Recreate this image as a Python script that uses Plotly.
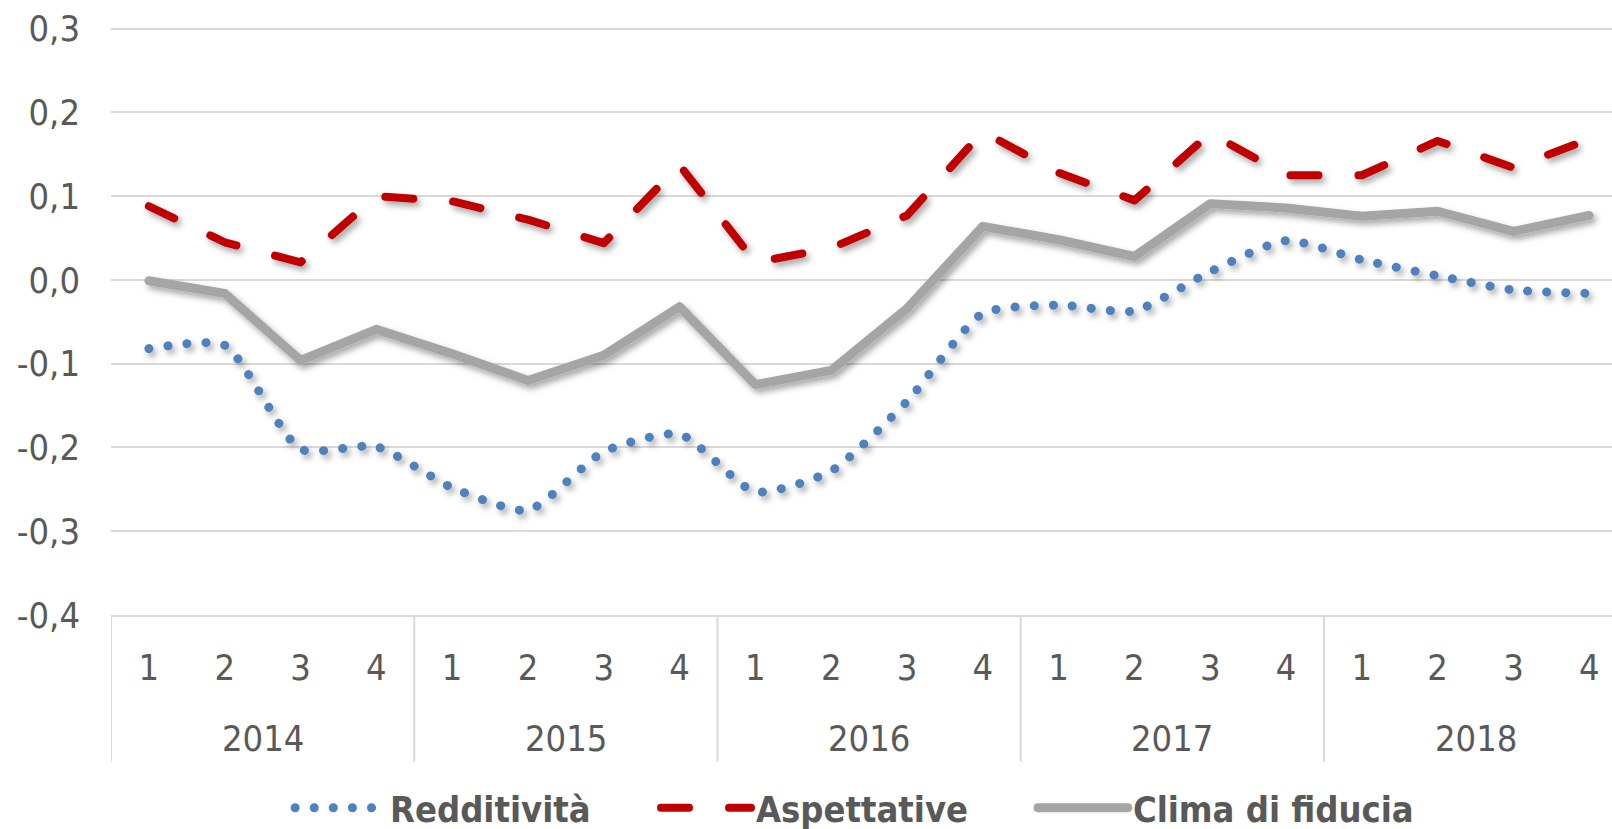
import plotly.graph_objects as go

# ---------------- data ----------------
years = ["2014", "2015", "2016", "2017", "2018"]
quarters = ["1", "2", "3", "4"]

redditivita = [-0.082, -0.078, -0.202, -0.199, -0.248, -0.275, -0.205, -0.184,
               -0.253, -0.228, -0.145, -0.040, -0.030, -0.037, 0.010, 0.047,
               0.024, 0.005, -0.012, -0.016]
aspettative = [0.088, 0.045, 0.021, 0.100, 0.094, 0.072, 0.044, 0.137,
               0.021, 0.038, 0.077, 0.177, 0.128, 0.095, 0.175, 0.125,
               0.125, 0.166, 0.134, 0.168]
clima = [-0.001, -0.016, -0.096, -0.059, -0.088, -0.120, -0.090, -0.032,
         -0.125, -0.108, -0.034, 0.064, 0.048, 0.028, 0.091, 0.086,
         0.076, 0.082, 0.058, 0.077]

y_ticks = [-0.4, -0.3, -0.2, -0.1, 0.0, 0.1, 0.2, 0.3]
y_tick_labels = ["-0,4", "-0,3", "-0,2", "-0,1", "0,0", "0,1", "0,2", "0,3"]

series_names = ["Redditività", "Aspettative", "Clima di fiducia"]

# ---------------- derived ----------------
x_idx = list(range(len(years) * len(quarters)))
x_labels = [q for _ in years for q in quarters]

FONT = "DejaVu Sans Condensed, DejaVu Sans, sans-serif"
TXT = "#595959"
GRID = "#d9d9d9"
TICK_SIZE = 36

fig = go.Figure()
fig.add_trace(go.Scatter(
    x=x_idx, y=redditivita, name=series_names[0], mode="lines", legend="legend",
    line=dict(color="#4f81bd", width=9, dash="0.1px,19px", shape="spline", smoothing=0.6),
))
fig.add_trace(go.Scatter(
    x=x_idx, y=aspettative, name=series_names[1], mode="lines", legend="legend2",
    line=dict(color="#c00000", width=8, dash="28px,40px"),
))
fig.add_trace(go.Scatter(
    x=x_idx, y=clima, name=series_names[2], mode="lines", legend="legend3",
    line=dict(color="#a5a5a5", width=9),
))

annotations = []
shapes = []
nq = len(quarters)
for k, yr in enumerate(years):
    center = k * nq + (nq - 1) / 2
    annotations.append(dict(
        x=center, xref="x", y=0, yref="paper", yshift=-123, yanchor="middle",
        text=yr, showarrow=False, font=dict(family=FONT, size=TICK_SIZE, color=TXT),
    ))
for k in range(len(years) + 1):
    xs = k * nq - 0.5
    shapes.append(dict(
        type="line", xref="x", yref="paper", x0=xs, x1=xs, y0=0, y1=-0.249,
        line=dict(color=GRID, width=2), layer="below",
    ))


def legend_box(xpos):
    return dict(
        orientation="h", x=xpos, xanchor="left", y=-0.328, yanchor="middle",
        font=dict(family=FONT, size=36, color=TXT, weight="bold"),
        itemwidth=90, bgcolor="rgba(0,0,0,0)",
        itemclick=False, itemdoubleclick=False,
    )


fig.update_layout(
    width=1612, height=829,
    margin=dict(l=111, r=0, t=27, b=214, autoexpand=False),
    paper_bgcolor="white", plot_bgcolor="white",
    font=dict(family=FONT, color=TXT),
    showlegend=True,
    legend=legend_box(0.1193),
    legend2=legend_box(0.3631),
    legend3=legend_box(0.6142),
    xaxis=dict(
        range=[-0.5, 19.3], tickvals=x_idx, ticktext=x_labels,
        showgrid=False, zeroline=False, showline=True, linecolor=GRID, linewidth=2,
        ticks="", tickfont=dict(family=FONT, size=TICK_SIZE, color=TXT),
        ticklabelstandoff=20, fixedrange=True, automargin=False,
    ),
    yaxis=dict(
        range=[-0.4, 0.302], tickvals=y_ticks, ticktext=y_tick_labels,
        showgrid=True, gridcolor=GRID, gridwidth=2, zeroline=False, showline=False,
        ticks="", tickfont=dict(family=FONT, size=TICK_SIZE, color=TXT),
        ticklabelstandoff=30, fixedrange=True, automargin=False,
    ),
    annotations=annotations,
    shapes=shapes,
)

post = """
document.body.style.margin = '0';
document.body.style.padding = '0';
var gd = document.getElementById('{plot_id}');
function fixLines(){
  var ns = 'http://www.w3.org/2000/svg';
  if(!document.getElementById('lshadow')){
    var defs = gd.querySelector('svg.main-svg defs') || gd.querySelector('defs');
    var f = document.createElementNS(ns, 'filter');
    f.setAttribute('id', 'lshadow');
    f.setAttribute('x', '-10%'); f.setAttribute('y', '-30%');
    f.setAttribute('width', '120%'); f.setAttribute('height', '160%');
    var d = document.createElementNS(ns, 'feDropShadow');
    d.setAttribute('dx', '3'); d.setAttribute('dy', '4');
    d.setAttribute('stdDeviation', '3');
    d.setAttribute('flood-color', '#000'); d.setAttribute('flood-opacity', '0.35');
    f.appendChild(d); defs.appendChild(f);
  }
  gd.querySelectorAll('.scatterlayer path.js-line').forEach(function(p){
    p.style.strokeLinecap = 'round';
    p.style.strokeLinejoin = 'round';
    p.style.filter = 'url(#lshadow)';
  });
  gd.querySelectorAll('.legend path.js-line, [class^=legend] path.js-line').forEach(function(p){
    p.setAttribute('d', 'M5,0h90');
    p.style.strokeLinecap = 'round';
  });
}
fixLines();
gd.on('plotly_afterplot', fixLines);
"""

fig.write_html("out.html", post_script=post, config={"displayModeBar": False})
